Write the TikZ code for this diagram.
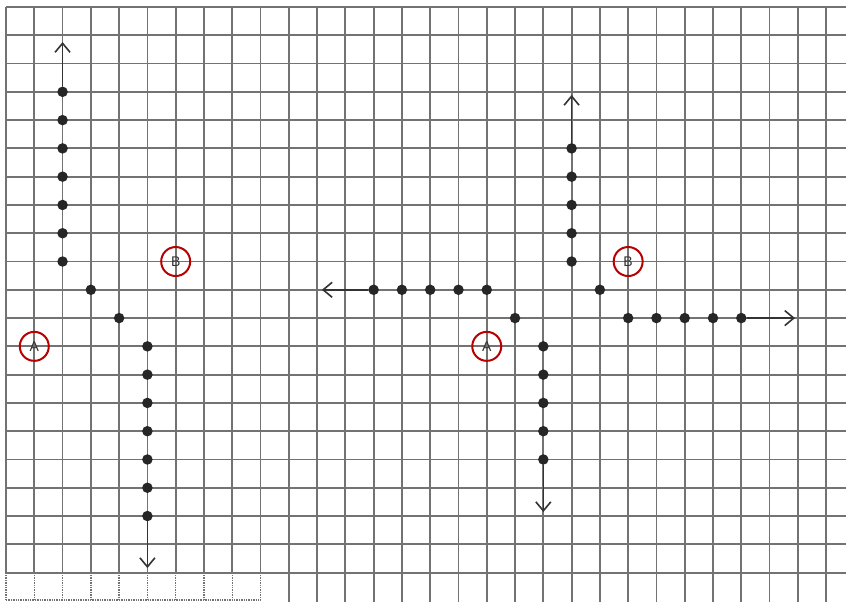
\documentclass[tikz,border=0pt]{standalone}
\usepackage{fontspec}
\setsansfont{Liberation Sans}
\usetikzlibrary{arrows.meta}
\begin{document}
\begin{tikzpicture}[x=28.28pt,y=-28.28pt,
  gridline/.style={draw=black!55, line width=1.8pt},
  dotline/.style={draw=black!55, line width=1.4pt, densely dotted},
  dot/.style={circle, fill=black!85, inner sep=0pt, minimum size=10.5pt},
  mark circle/.style={circle, draw=red!72!black, line width=2pt, minimum size=29pt, inner sep=0pt, text=black!80, font=\fontsize{14}{14}\sffamily},
  arr/.style={draw=black!80, line width=1.6pt, -{Straight Barb[length=9pt,width=15pt]}}]
\useasboundingbox (-0.2122,-0.2475) rectangle (29.703,21.04);
\fill[white] (-0.2122,-0.2475) rectangle (29.703,21.04);
% grid
\foreach \j in {0,...,20} \draw[gridline] (0,\j) -- (29.703,\j);
\foreach \i in {0,...,9} {\draw[gridline] (\i,0) -- (\i,20); \draw[dotline] (\i,20) -- (\i,20.97);}
\foreach \i in {10,...,29} \draw[gridline] (\i,0) -- (\i,21.04);
\draw[dotline] (0,20.97) -- (9,20.97);
% left figure
\foreach \j in {3,...,9} \node[dot] (lu\j) at (2,\j) {};
\node[dot] (ld1) at (3,10) {};
\node[dot] (ld2) at (4,11) {};
\foreach \j in {12,...,18} \node[dot] (lo\j) at (5,\j) {};
\node[mark circle] (lA) at (1,12) {A};
\node[mark circle] (lB) at (6,9) {B};
\coordinate (lupTip) at (2,1.24);
\coordinate (ldnTip) at (5,19.84);
\draw[arr] (lu3) -- (lupTip);
\draw[arr] (lo18) -- (ldnTip);
% right figure
\foreach \i in {13,...,17} \node[dot] (rh\i) at (\i,10) {};
\node[dot] (rd1) at (18,11) {};
\foreach \j in {12,...,16} \node[dot] (rv\j) at (19,\j) {};
\foreach \j in {5,...,9} \node[dot] (ru\j) at (20,\j) {};
\node[dot] (rd2) at (21,10) {};
\foreach \i in {22,...,26} \node[dot] (rr\i) at (\i,11) {};
\node[mark circle] (rA) at (17,12) {A};
\node[mark circle] (rB) at (22,9) {B};
\coordinate (rleftTip) at (11.17,10);
\coordinate (rupTip) at (20,3.11);
\coordinate (rrightTip) at (27.9,11);
\coordinate (rdnTip) at (19,17.86);
\draw[arr] (rh13) -- (rleftTip);
\draw[arr] (ru5) -- (rupTip);
\draw[arr] (rr26) -- (rrightTip);
\draw[arr] (rv16) -- (rdnTip);
\end{tikzpicture}
\end{document}
